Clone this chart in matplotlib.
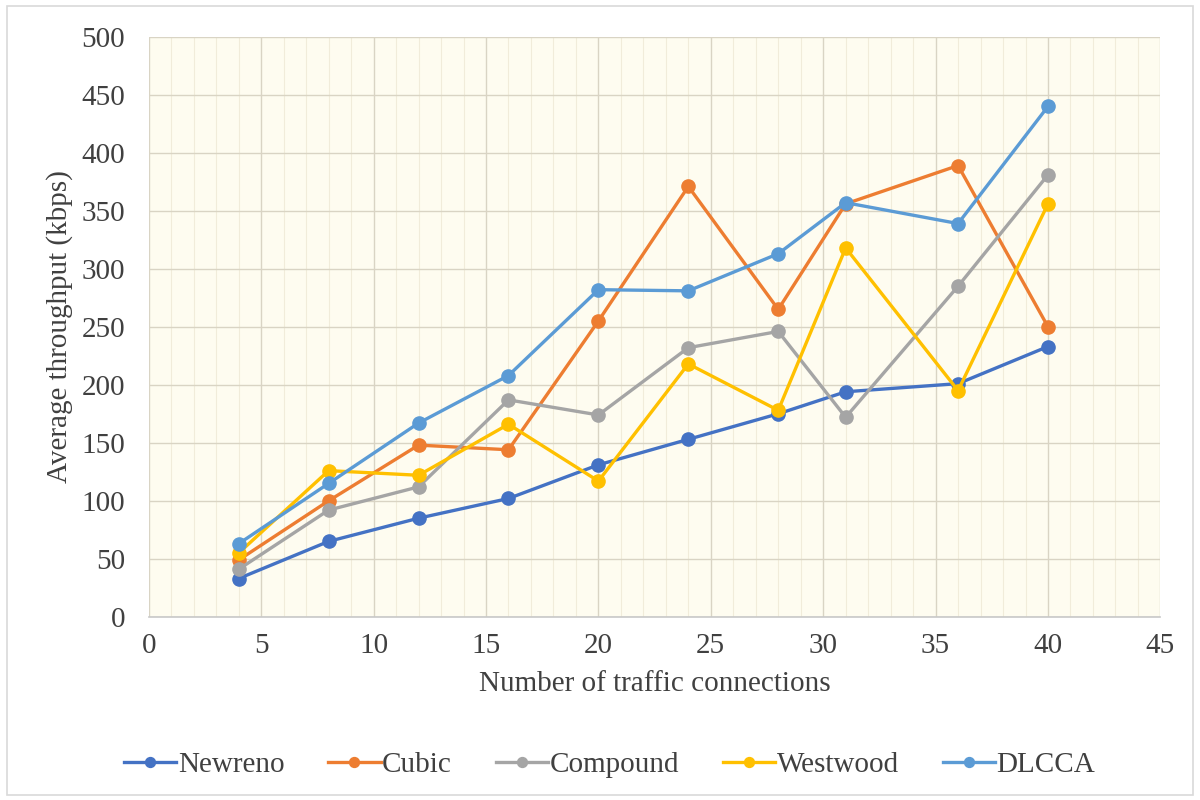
import matplotlib
matplotlib.use("Agg")
import matplotlib.pyplot as plt
from matplotlib.patches import Rectangle
from matplotlib.ticker import MultipleLocator

plt.rcParams['font.family'] = ['Liberation Serif', 'DejaVu Serif']

connections = [4, 8, 12, 16, 20, 24, 28, 31, 36, 40]
newreno = [33, 65, 85, 102, 131, 153, 175, 194, 201, 233]
cubic = [49, 100, 148, 144, 255, 371, 265, 356, 389, 250]
compound = [41, 92, 112, 187, 174, 232, 246, 172, 285, 381]
westwood = [55, 126, 122, 166, 117, 218, 178, 318, 195, 356]
dlcca = [63, 115, 167, 208, 282, 281, 313, 357, 339, 440]

series = [
    ("Newreno", newreno, "#4472C4"),
    ("Cubic", cubic, "#ED7D31"),
    ("Compound", compound, "#A5A5A5"),
    ("Westwood", westwood, "#FFC000"),
    ("DLCCA", dlcca, "#5B9BD5"),
]

FS = 21
TXT = "#404040"

fig = plt.figure(figsize=(12, 8), dpi=100)
fig.patch.set_facecolor("white")
fig.add_artist(Rectangle((0.006, 0.006), 0.988, 0.986, transform=fig.transFigure,
                         fill=False, edgecolor="#D9D9D9", linewidth=1.2))

ax = fig.add_axes([0.124, 0.229, 0.843, 0.725])
ax.set_facecolor("#FEFCF0")

for name, vals, col in series:
    ax.plot(connections, vals, color=col, linewidth=2.4, marker="o",
            markersize=9.5, label=name, zorder=3)

ax.set_xlim(0, 45)
ax.set_ylim(0, 500)
ax.xaxis.set_major_locator(MultipleLocator(5))
ax.xaxis.set_minor_locator(MultipleLocator(1))
ax.yaxis.set_major_locator(MultipleLocator(50))

ax.grid(which="major", axis="both", color="#D9D4C4", linewidth=1.0, zorder=0)
ax.grid(which="minor", axis="x", color="#F1ECDA", linewidth=0.8, zorder=0)
ax.set_axisbelow(True)

for s in ["top", "right", "left"]:
    ax.spines[s].set_visible(False)
ax.spines["bottom"].set_color("#C8C8C8")
ax.spines["bottom"].set_linewidth(1.2)

ax.tick_params(which="both", length=0, labelsize=FS, colors=TXT)
ax.tick_params(axis="x", pad=12)
ax.tick_params(axis="y", pad=17)

ax.set_xlabel("Number of traffic connections", fontsize=FS, color=TXT, labelpad=8)
ax.set_ylabel("Average throughput (kbps)", fontsize=FS, color=TXT, labelpad=6)

leg = fig.legend(loc="center", bbox_to_anchor=(0.508, 0.044), ncol=5, frameon=False,
                 fontsize=FS, handlelength=1.8, handletextpad=0.05, columnspacing=1.5,
                 markerscale=0.75)
for t in leg.get_texts():
    t.set_color(TXT)

fig.savefig("out.png", dpi=100, facecolor=fig.get_facecolor())
